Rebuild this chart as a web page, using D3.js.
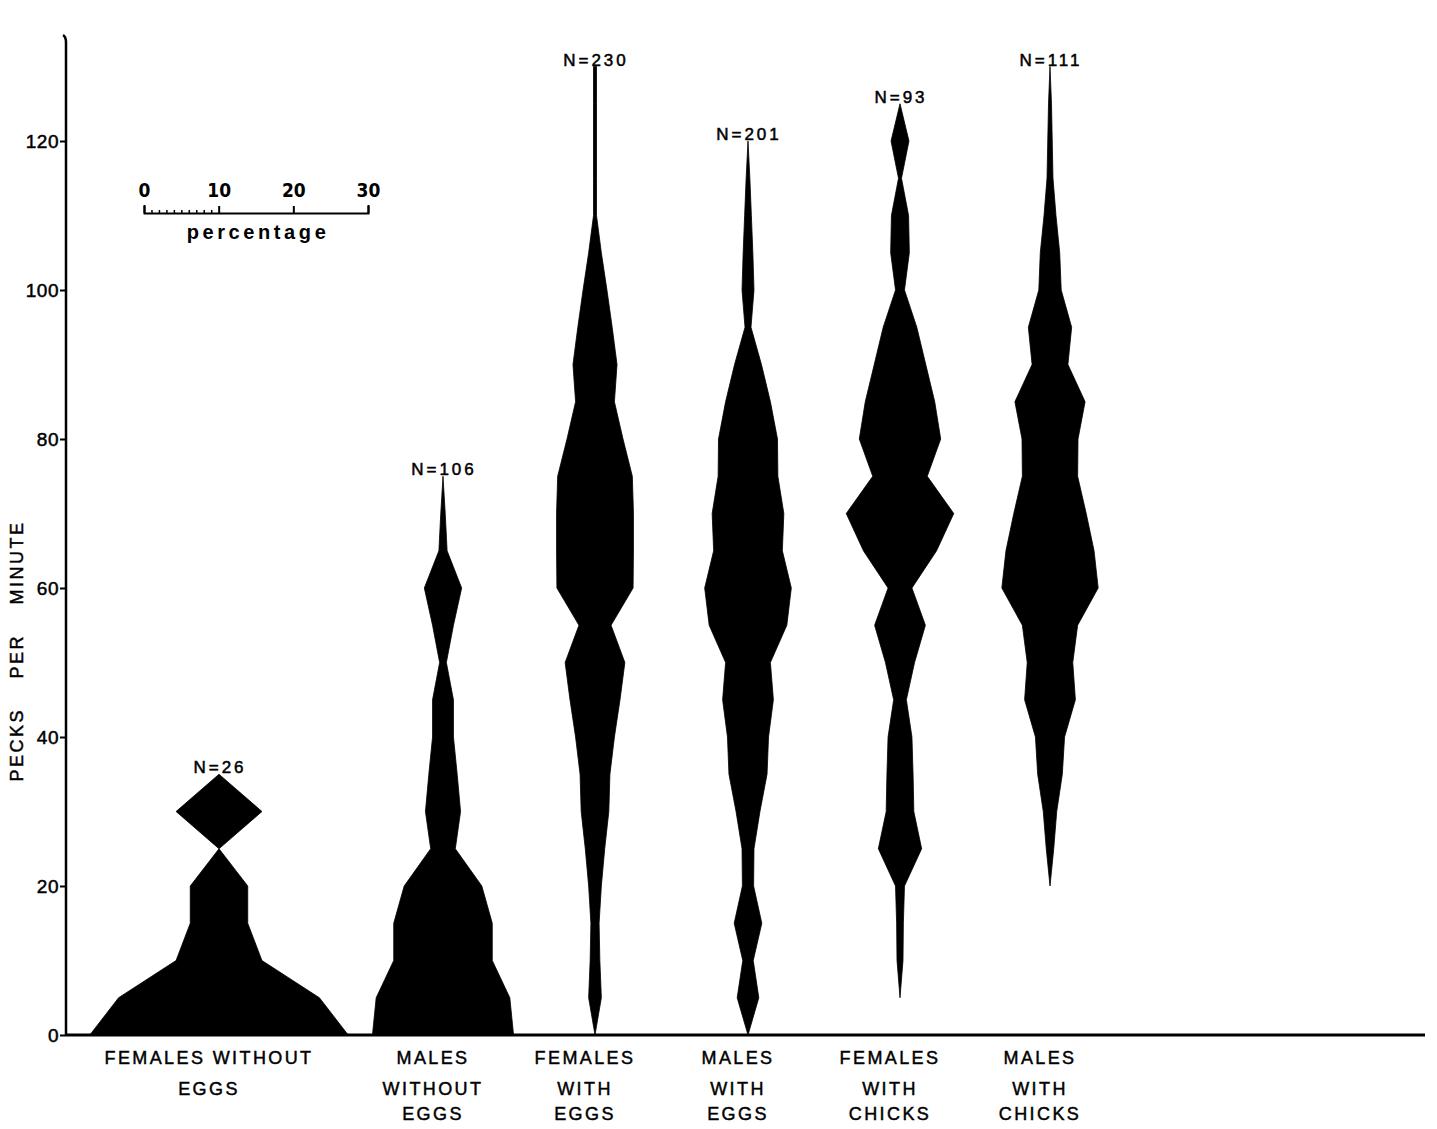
<!DOCTYPE html>
<html>
<head>
<meta charset="utf-8">
<script src="https://cdn.jsdelivr.net/npm/d3@7"></script>
<style>
  body { margin: 0; background: #fff; }
  svg { display: block; }
  text { fill: #000; }
</style>
</head>
<body>
<svg id="chart" width="1437" height="1129"></svg>
<script>
// Pecking-rate classes (pecks per minute), one value every 5 units
const levels = [0, 5, 10, 15, 20, 25, 30, 35, 40, 45, 50, 55, 60, 65, 70, 75, 80, 85, 90, 95, 100, 105, 110, 115, 120, 125, 130];

// Group names, one entry per printed line
const categories = [
  ["FEMALES WITHOUT", "EGGS"],
  ["MALES", "WITHOUT", "EGGS"],
  ["FEMALES", "WITH", "EGGS"],
  ["MALES", "WITH", "EGGS"],
  ["FEMALES", "WITH", "CHICKS"],
  ["MALES", "WITH", "CHICKS"]
];

// Number of birds in each group
const sampleSizes = [26, 106, 230, 201, 93, 111];

// Percentage of birds in each class (null = class not drawn)
const femalesWithoutEggs = [34.6, 26.9, 11.5, 7.7, 7.7, 0, 11.5, 0, null, null, null, null, null, null, null, null, null, null, null, null, null, null, null, null, null, null, null];
const malesWithoutEggs   = [18.9, 17.9, 13.2, 13.2, 10.4, 3.3, 4.7, 3.8, 2.8, 2.8, 0.9, 2.8, 5.0, 1.1, 0.6, 0, null, null, null, null, null, null, null, null, null, null, null];
const femalesWithEggs    = [0, 1.7, 1.3, 1.1, 1.7, 2.6, 3.7, 4.0, 5.2, 6.7, 8.0, 4.3, 10.2, 10.3, 10.3, 10.0, 7.5, 5.2, 5.9, 4.6, 3.2, 1.7, 0.4, 0.4, 0.4, 0.4, 0.4];
const malesWithEggs      = [0, 2.9, 1.4, 3.7, 1.5, 1.6, 3.2, 5.1, 5.5, 6.8, 6.0, 10.4, 11.6, 9.2, 9.6, 8.0, 7.9, 6.0, 3.6, 0.8, 1.6, 1.3, 0.9, 0.5, 0, null, null];
const femalesWithChicks  = [null, 0, 0.8, 0.9, 1.2, 5.8, 3.7, 3.5, 3.2, 1.7, 3.9, 6.8, 3.2, 9.8, 14.4, 7.3, 10.9, 9.3, 6.9, 4.5, 1.2, 2.5, 2.3, 0.4, 2.4, 0, null];
const malesWithChicks    = [null, null, null, null, 0, 1.0, 1.8, 3.3, 3.9, 6.8, 6.1, 7.4, 12.9, 11.8, 9.7, 7.4, 7.5, 9.4, 4.8, 5.8, 3.0, 2.6, 1.6, 0.8, 0.6, 0.4, 0];

const series = [femalesWithoutEggs, malesWithoutEggs, femalesWithEggs, malesWithEggs, femalesWithChicks, malesWithChicks];

// Axis ticks
const yTicks = [0, 20, 40, 60, 80, 100, 120];
const scaleTicks = [0, 10, 20, 30];
const scaleMinorTicks = [1, 2, 3, 4, 5, 6, 7, 8, 9];

const svg = d3.select("#chart");
const FONT = "'Liberation Sans', Arial, sans-serif";
const NARROW = "'Liberation Sans Narrow', 'DejaVu Sans Condensed', 'Liberation Sans', sans-serif";
const labelBaselines = [1064, 1095, 1120];

// Scales
const y = d3.scaleLinear().domain([0, 120]).range([1035, 141]);
const width = d3.scaleLinear().domain([0, 30]).range([0, 224]);   // percentage -> full kite width
const x = d3.scaleOrdinal()
  .domain(d3.range(categories.length))
  .range([219, 443, 595, 748, 900, 1050]);

// Kites: symmetric about each group's centre line
series.forEach((vals, i) => {
  const cx = x(i);
  const rows = levels.map((lv, k) => ({ level: lv, v: vals[k] }));
  const area = d3.area()
    .defined(d => d.v != null)
    .y(d => y(d.level))
    .x0(d => cx - width(d.v) / 2)
    .x1(d => cx + width(d.v) / 2);
  svg.append("path")
    .attr("d", area(rows))
    .attr("fill", "#000")
    .attr("stroke", "#000")
    .attr("stroke-width", 0.8)
    .attr("stroke-linejoin", "miter");

  // sample size above the top of the kite
  const top = d3.max(rows.filter(d => d.v != null), d => d.level);
  svg.append("text")
    .attr("x", cx + 1)
    .attr("y", y(top) - 1)
    .attr("text-anchor", "middle")
    .attr("font-family", FONT)
    .attr("font-size", 17)
    .attr("letter-spacing", 3)
    .attr("stroke", "#000")
    .attr("stroke-width", 0.5)
    .text("N=" + sampleSizes[i]);

  // group label beneath the baseline
  const lab = svg.append("text")
    .attr("text-anchor", "middle")
    .attr("font-family", FONT)
    .attr("font-size", 18)
    .attr("letter-spacing", 2.4)
    .attr("stroke", "#000")
    .attr("stroke-width", 0.45);
  categories[i].forEach((line, j) => {
    lab.append("tspan")
      .attr("x", cx - 10)
      .attr("y", labelBaselines[j])
      .text(line);
  });
});

// Y axis
const yAxis = svg.append("g")
  .attr("transform", "translate(66,0)")
  .call(d3.axisLeft(y).tickValues(yTicks).tickSize(6).tickPadding(1).tickSizeOuter(0));
yAxis.select(".domain").remove();
yAxis.selectAll(".tick line").attr("stroke", "#000").attr("stroke-width", 2);
yAxis.selectAll(".tick text")
  .attr("font-family", FONT)
  .attr("font-size", 19)
  .attr("letter-spacing", 0.5)
  .attr("stroke", "#000")
  .attr("stroke-width", 0.5)
  .attr("fill", "#000");

svg.append("path")
  .attr("d", `M66,${y(0)} L66,${y(133.2)} Q66,${y(134)} 63,${y(134.2)}`)
  .attr("fill", "none")
  .attr("stroke", "#000")
  .attr("stroke-width", 2.5);

// Baseline
svg.append("line")
  .attr("x1", 66).attr("x2", 1425)
  .attr("y1", y(0)).attr("y2", y(0))
  .attr("stroke", "#000")
  .attr("stroke-width", 3);

// Y axis title
svg.append("text")
  .attr("transform", `translate(23,${651}) rotate(-90)`)
  .attr("text-anchor", "middle")
  .attr("font-family", FONT)
  .attr("font-size", 18)
  .attr("letter-spacing", 2.5)
  .attr("word-spacing", 22)
  .attr("stroke", "#000")
  .attr("stroke-width", 0.45)
  .text("PECKS PER MINUTE");

// Percentage scale bar
const bar = svg.append("g").attr("transform", "translate(144,213)");
bar.call(d3.axisTop(width).tickValues(scaleTicks).tickSize(7).tickSizeOuter(8).tickPadding(9));
bar.select(".domain").attr("stroke", "#000").attr("stroke-width", 2);
bar.selectAll(".tick line").attr("stroke", "#000").attr("stroke-width", 2);
bar.selectAll(".tick text")
  .attr("font-family", NARROW)
  .attr("font-weight", "bold")
  .attr("font-size", 19)
  .attr("fill", "#000");
const minor = svg.append("g").attr("transform", "translate(144,213)");
minor.call(d3.axisTop(width).tickValues(scaleMinorTicks).tickSize(3).tickSizeOuter(0).tickFormat(""));
minor.select(".domain").remove();
minor.selectAll(".tick line").attr("stroke", "#000").attr("stroke-width", 1.5);

svg.append("text")
  .attr("x", 144 + width(15) + 2)
  .attr("y", 239)
  .attr("text-anchor", "middle")
  .attr("font-family", FONT)
  .attr("font-weight", "bold")
  .attr("font-size", 20)
  .attr("letter-spacing", 3.6)
  .text("percentage");
</script>
</body>
</html>
